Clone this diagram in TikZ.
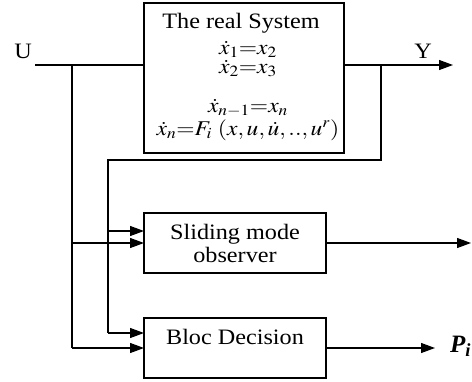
\documentclass[tikz,border=0pt]{standalone}
\usepackage{mathptmx}
\usepackage{fontspec}
\setmainfont{Liberation Serif}
\usetikzlibrary{arrows.meta}
\newcommand{\hstretch}[1]{\scalebox{1.1}[1]{#1}}
\newcommand{\eqstretch}[1]{\scalebox{1.12}[1]{#1}}
\begin{document}
\begin{tikzpicture}[x=1pt,y=-1pt,
  blk/.style={draw, line width=1.2pt, rectangle, inner sep=0pt},
  wire/.style={line width=1.2pt},
  arr/.style={wire, -{Triangle[length=14pt,width=10pt]}},
  lbl/.style={inner sep=0pt, font=\fontsize{22}{23}\selectfont},
  eqn/.style={inner sep=0pt, align=center, font=\fontsize{21}{19}\selectfont},
]
\useasboundingbox (0,0) rectangle (472,381);
% blocks
\node[blk, minimum width=200pt, minimum height=150pt] (sys) at (244,78) {};
\node[blk, minimum width=182pt, minimum height=60pt] (smo) at (235,243) {};
\node[blk, minimum width=182pt, minimum height=60pt] (bd) at (235,348) {};
% texts
\node[lbl, anchor=base] (title) at (241,28) {\hstretch{The real System}};
\node[eqn, anchor=base] (eqs) at (248,135) {\eqstretch{$\dot{x}_1{=}x_2$}\\
  \eqstretch{$\dot{x}_2{=}x_3$}\\[20pt]
  \eqstretch{$\dot{x}_{n-1}{=}x_n$}\\[1pt]
  \eqstretch{$\dot{x}_n{=}F_i\ (x,u,\dot{u},..,u^r)$}};
\node[lbl, anchor=base, align=center] (smot) at (235,262) {\hstretch{Sliding mode}\\\hstretch{observer}};
\node[lbl, anchor=base] (bdt) at (235,344) {\hstretch{Bloc Decision}};
\node[lbl, anchor=base] (U) at (23,58) {\hstretch{U}};
\node[lbl, anchor=base] (Y) at (423,58) {\hstretch{Y}};
\node[lbl, anchor=base west, font=\fontsize{25}{28}\selectfont\bfseries\itshape] (P) at (450,352) {P\textsubscript{i}};
% coordinates
\coordinate (uin) at (35,65);
\coordinate (ju) at (72,65);
\coordinate (jy) at (381,65);
\coordinate (yout) at (453,65);
\coordinate (f1) at (381,160);
\coordinate (f2) at (108,160);
\coordinate (smoA) at (144,231);
\coordinate (smoB) at (144,243);
\coordinate (bdA) at (144,333);
\coordinate (bdB) at (144,348);
\coordinate (smoOut) at (471,243);
\coordinate (bdOut) at (435,348);
% wires
\draw[wire] (uin) -- (sys.west |- uin);
\draw[arr] (sys.east |- yout) -- (yout);
\draw[wire] (ju) -- (ju |- bdB);
\draw[wire] (jy) -- (f1) -- (f2) -- (f2 |- bdA);
\draw[arr] (f2 |- smoA) -- (smoA);
\draw[arr] (ju |- smoB) -- (smoB);
\draw[arr] (f2 |- bdA) -- (bdA);
\draw[arr] (ju |- bdB) -- (bdB);
\draw[arr] (smo.east |- smoOut) -- (smoOut);
\draw[arr] (bd.east |- bdOut) -- (bdOut);
\end{tikzpicture}
\end{document}
